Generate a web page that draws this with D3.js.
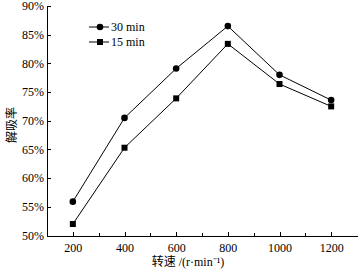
<!DOCTYPE html>
<html lang="zh">
<head>
<meta charset="UTF-8">
<title>解吸率</title>
<script src="https://cdn.jsdelivr.net/npm/d3@7/dist/d3.min.js"></script>
<style>
    body { margin: 0; background: #fff; }
    .axis path, .axis line { fill: none; stroke: #000; stroke-width: 1; shape-rendering: crispEdges; }
    .axis text { font-family: "Liberation Serif", "Times New Roman", serif; font-size: 12px; fill: #000; }
    .cjk { font-family: "Liberation Serif", "Noto Sans CJK SC", serif; }
</style>
</head>
<body>
<div id="output"></div>
<script>
var speeds = [200, 400, 600, 800, 1000, 1200];
var series30 = [55.9, 70.5, 79.1, 86.5, 78.0, 73.6];
var series15 = [52.0, 65.3, 73.9, 83.4, 76.4, 72.5];
var yTicks = [50, 55, 60, 65, 70, 75, 80, 85, 90];
var minorX = [300, 500, 700, 900, 1100];
var seriesNames = ["30 min", "15 min"];

var w = 362, h = 271;
var svg = d3.select("#output").append("svg")
    .attr("width", w).attr("height", h);

var xScale = d3.scaleLinear().domain([100, 1300]).range([47, 357]);
var yScale = d3.scaleLinear().domain([50, 90]).range([235.5, 6]);

// y axis, ticks inward
svg.append("g").attr("class", "axis")
    .attr("transform", "translate(" + xScale(100) + ",0)")
    .call(d3.axisLeft(yScale).tickValues(yTicks).tickSizeInner(-4).tickSizeOuter(0)
        .tickPadding(3).tickFormat(function(d){ return d + "%"; }));

// x axis
svg.append("g").attr("class", "axis")
    .attr("transform", "translate(0," + yScale(50) + ")")
    .call(d3.axisBottom(xScale).tickValues(speeds).tickSizeInner(-4).tickSizeOuter(0)
        .tickPadding(8).tickFormat(d3.format("d")));
svg.append("g").attr("class", "axis")
    .attr("transform", "translate(0," + yScale(50) + ")")
    .call(d3.axisBottom(xScale).tickValues(minorX).tickSizeInner(-3).tickSizeOuter(0)
        .tickFormat(""))
    .select(".domain").remove();

var line = d3.line()
    .x(function(d, i){ return xScale(speeds[i]); })
    .y(function(d){ return yScale(d); });

[series30, series15].forEach(function(s, k) {
    svg.append("path").datum(s)
        .attr("d", line).attr("fill", "none")
        .attr("stroke", "#000").attr("stroke-width", 1);
    s.forEach(function(v, i) {
        var x = xScale(speeds[i]), y = yScale(v);
        if (k === 0) {
            svg.append("circle").attr("cx", x).attr("cy", y).attr("r", 3.3).attr("fill", "#000");
        } else {
            svg.append("rect").attr("x", x - 3).attr("y", y - 3)
                .attr("width", 6).attr("height", 6).attr("fill", "#000");
        }
    });
});

// legend
seriesNames.forEach(function(name, k) {
    var ly = 27 + k * 15;
    svg.append("line").attr("x1", 89).attr("x2", 109).attr("y1", ly).attr("y2", ly)
        .attr("stroke", "#000").attr("stroke-width", 1);
    if (k === 0) {
        svg.append("circle").attr("cx", 100).attr("cy", ly).attr("r", 3.3).attr("fill", "#000");
    } else {
        svg.append("rect").attr("x", 97).attr("y", ly - 3).attr("width", 6).attr("height", 6).attr("fill", "#000");
    }
    svg.append("text").attr("x", 111).attr("y", ly + 4)
        .style("font-family", "'Liberation Serif', serif").style("font-size", "12px")
        .text(name);
});

// axis titles
svg.append("text").attr("class", "cjk")
    .attr("x", 188).attr("y", 266).attr("text-anchor", "middle")
    .style("font-size", "12px")
    .text("转速 /(r·min⁻¹)");

svg.append("text").attr("class", "cjk")
    .attr("transform", "translate(16,125) rotate(-90)")
    .attr("text-anchor", "middle").style("font-size", "12px")
    .text("解吸率");
</script>
</body>
</html>
